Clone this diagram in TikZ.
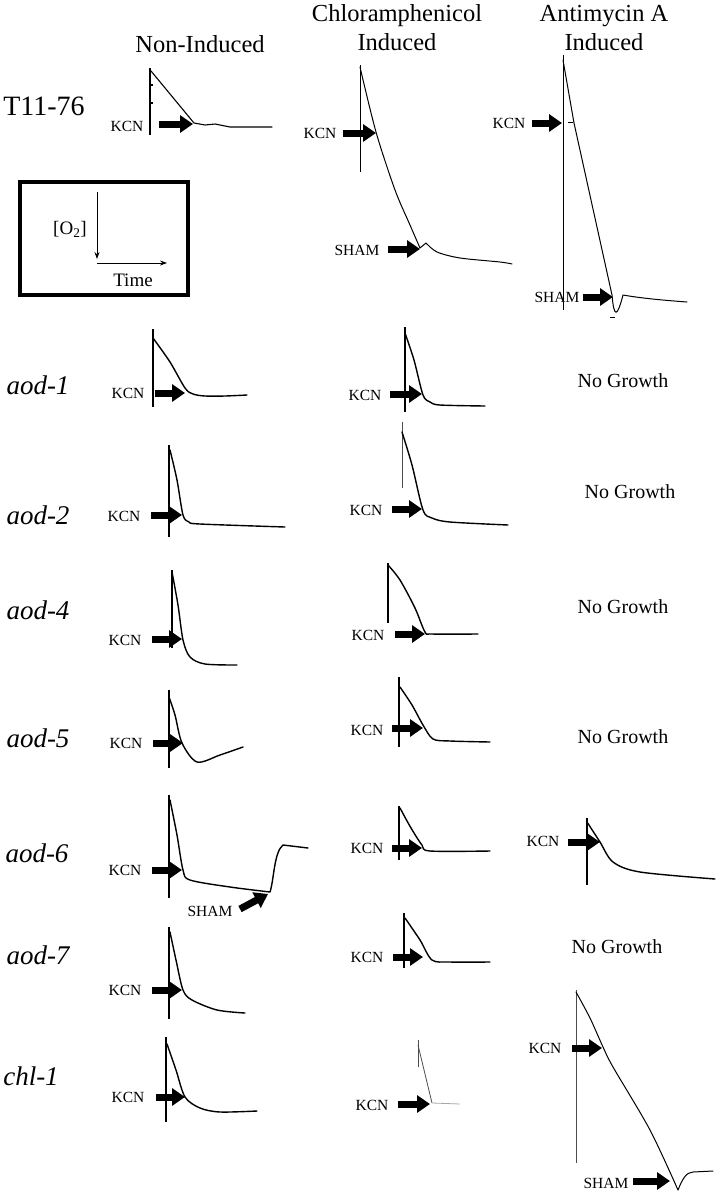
\documentclass[tikz,border=0pt]{standalone}
\usepackage{fontspec}
\setmainfont{Liberation Serif}
\usetikzlibrary{arrows.meta,positioning}

\begin{document}
\begin{tikzpicture}[x=1pt,y=-1pt,
    trace/.style={line width=1.4pt,line join=round,line cap=round},
    faint/.style={line width=0.8pt,black!70},
    axisline/.style={line width=1.1pt},
    kcnarrow/.style={line width=7pt,-{Triangle[length=13pt,width=17pt]}},
    hdr/.style={font=\fontsize{24.5}{29}\selectfont,align=center},
    strain/.style={font=\fontsize{27}{29}\selectfont\itshape},
    tag/.style={font=\fontsize{15.5}{17}\selectfont,inner sep=0pt},
    nogrowth/.style={font=\fontsize{20}{22}\selectfont}]
\useasboundingbox (0,0) rectangle (718,1200);

% column heads
\node[hdr] (hNon) at (200,44) {Non-Induced};
\node[hdr] (hChl) at (397,28) {Chloramphenicol\\Induced};
\node[hdr] (hAnt) at (604,28) {Antimycin A\\Induced};

% strains
\node[font=\fontsize{28}{30}\selectfont] (sT) at (44,106) {T11-76};
\node[strain] (s1) at (38,385) {aod-1};
\node[strain] (s2) at (38,515) {aod-2};
\node[strain] (s4) at (38,610) {aod-4};
\node[strain] (s5) at (38,738) {aod-5};
\node[strain] (s6) at (37,853) {aod-6};
\node[strain] (s7) at (38,955) {aod-7};
\node[strain] (sc) at (31,1076) {chl-1};

% key box
\draw[line width=4pt] (20,182) rectangle (188,295);
\coordinate (o) at (97,263);
\draw[line width=0.8pt,-{Stealth[length=7pt,width=5pt]}] (97,192) -- (97,259);
\draw[line width=0.8pt,-{Stealth[length=7pt,width=5pt]}] (o) -- (167,263);
\node[font=\fontsize{19}{21}\selectfont] (kO) at (70,229) {[O\textsubscript{2}]};
\node[font=\fontsize{19}{21}\selectfont] (kT) at (133,280) {Time};

% T11-76
\draw[axisline] (150,68) -- (150,135) (150,85) -- (153,85) (150,103) -- (153,103);
\draw[trace,line width=1.1pt] (151,71) -- (194,123) -- (205,125) -- (215,124) -- (230,127) -- (272,127);
\node[tag] (kT1) at (127,126) {KCN};
\draw[kcnarrow] (159,124) -- (193,124);

\draw[axisline,line width=0.8pt] (360,65) -- (360,172);
\draw[trace,line width=1pt] plot[smooth] coordinates {(360,67) (376,132) (395,190) (410,225) (420,248)}
  -- (426,243) plot[smooth] coordinates {(426,243) (437,252) (460,258) (500,262) (512,264)};
\node[tag] (kT2) at (320,133) {KCN};
\draw[kcnarrow] (343,133) -- (376,133);
\node[tag] (hT2) at (357,250) {SHAM};
\draw[kcnarrow] (388,249) -- (420,249);

\draw[axisline,line width=0.8pt] (563,55) -- (563,310);
\draw[trace,line width=1pt] (563,60) -- (574,123) -- (612,295) .. controls (614,318) and (617,318) .. (623,295)
  .. controls (640,298) and (660,300) .. (687,302);
\draw[line width=0.8pt] (568,122) -- (573,122) (610,317) -- (615,317);
\node[tag] (kT3) at (509,123) {KCN};
\draw[kcnarrow] (532,123) -- (562,123);
\node[tag] (hT3) at (557,297) {SHAM};
\draw[kcnarrow] (583,297) -- (613,297);

% aod-1
\draw[axisline] (153,329) -- (153,407);
\draw[trace] plot[smooth] coordinates {(153,338) (170,362) (185,388) (193,394) (205,396) (225,396) (247,395)};
\node[tag] (k11) at (128,393) {KCN};
\draw[kcnarrow] (155,393) -- (185,393);
\draw[axisline] (405,327) -- (405,412);
\draw[trace] plot[smooth] coordinates {(405,333) (414,360) (423,395) (430,402) (440,405) (485,406)};
\node[tag] (k12) at (365,395) {KCN};
\draw[kcnarrow] (390,394) -- (422,394);
\node[nogrowth] (n1) at (623,381) {No Growth};

% aod-2
\draw[axisline] (169,445) -- (169,537);
\draw[trace] plot[smooth] coordinates {(170,450) (177,480) (183,515) (189,522) (200,524) (285,527)};
\node[tag] (k21) at (124,516) {KCN};
\draw[kcnarrow] (151,515) -- (182,515);
\draw[faint] (402,422) -- (402,488);
\draw[trace] plot[smooth] coordinates {(402,432) (412,465) (423,510) (432,518) (450,522) (508,525)};
\node[tag] (k22) at (366,510) {KCN};
\draw[kcnarrow] (392,509) -- (422,509);
\node[nogrowth] (n2) at (630,492) {No Growth};

% aod-4
\draw[axisline] (172,570) -- (172,648);
\draw[trace] plot[smooth] coordinates {(172,572) (178,605) (183,640) (190,657) (205,664) (237,665)};
\node[tag] (k41) at (125,640) {KCN};
\draw[kcnarrow] (152,639) -- (182,639);
\draw[axisline] (388,563) -- (388,623);
\draw[trace] plot[smooth] coordinates {(388,565) (400,580) (415,608) (425,632) (432,634) (478,634)};
\node[tag] (k42) at (368,635) {KCN};
\draw[kcnarrow] (395,634) -- (425,634);
\node[nogrowth] (n4) at (623,607) {No Growth};

% aod-5
\draw[axisline] (169,690) -- (169,768);
\draw[trace] plot[smooth] coordinates {(169,697) (175,715) (182,743) (197,762) (220,755) (243,747)};
\node[tag] (k51) at (126,743) {KCN};
\draw[kcnarrow] (153,743) -- (183,743);
\draw[axisline] (399,677) -- (399,747);
\draw[trace] plot[smooth] coordinates {(400,687) (412,705) (423,725) (433,739) (450,741) (490,742)};
\node[tag] (k52) at (367,730) {KCN};
\draw[kcnarrow] (392,728) -- (423,728);
\node[nogrowth] (n5) at (623,737) {No Growth};

% aod-6
\draw[axisline] (169,795) -- (169,898);
\draw[trace] plot[smooth] coordinates {(170,800) (177,835) (183,870) (190,880) (230,887) (270,892)}
  .. controls (274,880) and (274,852) .. (283,845) -- (308,848);
\node[tag] (k61) at (125,870) {KCN};
\draw[kcnarrow] (152,870) -- (182,870);
\node[tag] (h61) at (210,911) {SHAM};
\draw[kcnarrow] (240,909) -- (268,894);
\draw[axisline] (399,806) -- (399,860);
\draw[trace] plot[smooth] coordinates {(400,808) (411,828) (422,845) (430,851) (490,851)};
\node[tag] (k62) at (367,848) {KCN};
\draw[kcnarrow] (392,848) -- (422,848);
\draw[axisline] (587,818) -- (587,885);
\draw[trace] plot[smooth] coordinates {(587,822) (600,842) (613,862) (640,872) (715,879)};
\node[tag] (k63) at (543,841) {KCN};
\draw[kcnarrow] (568,842) -- (600,842);

% aod-7
\draw[axisline] (169,927) -- (169,1019);
\draw[trace] plot[smooth] coordinates {(170,932) (176,960) (183,990) (192,1000) (217,1010) (245,1013)};
\node[tag] (k71) at (125,990) {KCN};
\draw[kcnarrow] (152,990) -- (182,990);
\draw[axisline] (404,913) -- (404,968);
\draw[trace] plot[smooth] coordinates {(405,918) (420,940) (432,960) (450,962) (490,962)};
\node[tag] (k72) at (367,957) {KCN};
\draw[kcnarrow] (393,957) -- (423,957);
\node[nogrowth] (n7) at (617,947) {No Growth};

% chl-1
\draw[axisline] (166,1037) -- (166,1122);
\draw[trace] plot[smooth] coordinates {(167,1044) (176,1070) (185,1097) (200,1108) (220,1112) (257,1111)};
\node[tag] (kc1) at (128,1097) {KCN};
\draw[kcnarrow] (156,1097) -- (185,1097);
\draw[faint] (418,1040) -- (418,1067);
\draw[faint] (418,1045) -- (432,1103);
\draw[faint,black!35] (432,1103) -- (460,1104);
\node[tag] (kc2) at (372,1105) {KCN};
\draw[kcnarrow] (398,1104) -- (430,1104);
\draw[faint] (576,990) -- (576,1163);
\draw[trace,line width=1pt] plot[smooth] coordinates {(576,992) (590,1018) (603,1047) (613,1067) (650,1130) (678,1190)}
  .. controls (682,1180) and (686,1172) .. (693,1172) -- (713,1171);
\node[tag] (kc3) at (545,1048) {KCN};
\draw[kcnarrow] (572,1048) -- (602,1048);
\node[tag] (hc3) at (606,1183) {SHAM};
\draw[kcnarrow] (633,1181) -- (670,1181);
\end{tikzpicture}
\end{document}
